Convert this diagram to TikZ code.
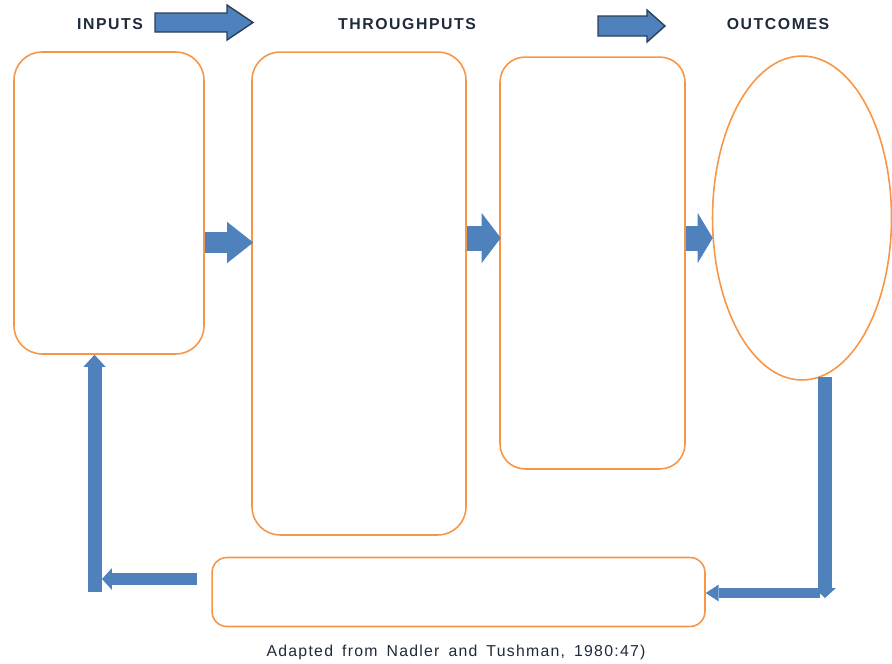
\documentclass[tikz,border=0pt]{standalone}
\usepackage{fontspec}
\setmainfont{Liberation Sans}
\newfontfamily\headfont[LetterSpace=10]{Liberation Sans}
\newfontfamily\notefont[LetterSpace=8,WordSpace=1.6]{Liberation Sans}
\usetikzlibrary{arrows.meta,shapes.geometric}
\definecolor{boxorange}{HTML}{F79646}
\definecolor{flowblue}{HTML}{4F81BD}
\definecolor{flowedge}{HTML}{2B3F57}
\definecolor{headtext}{HTML}{1F2A3A}

\begin{document}
\begin{tikzpicture}[x=0.02cm, y=-0.02cm,
    box/.style={draw=boxorange, line width=0.9pt, rounded corners=0.56cm, inner sep=0pt},
    head/.style={font=\headfont\bfseries\fontsize{9}{10}\selectfont, text=headtext},
    bigarrow/.style={fill=flowblue, draw=flowedge, line width=0.8pt, line join=miter},
    flow/.style={flowblue, line width=#1}]
      \useasboundingbox (0,0) rectangle (892,663);

      % headings
      \node[head] (inlabel) at (110,24) {INPUTS};
      \node[head] (thrulabel) at (407,24) {THROUGHPUTS};
      \node[head] (outlabel) at (778,24) {OUTCOMES};
      \draw[bigarrow] (155,13) -- (227,13) -- (227,5) -- (253,22.5) -- (227,40) -- (227,32) -- (155,32) -- cycle;
      \draw[bigarrow] (598,16) -- (647,16) -- (647,10) -- (665,26) -- (647,42) -- (647,36) -- (598,36) -- cycle;

      % boxes
      \node[box, minimum width=3.8cm, minimum height=6.04cm] (inputs) at (109,203) {};
      \node[box, minimum width=4.28cm, minimum height=9.66cm] (transform) at (359,293.5) {};
      \node[box, rounded corners=0.5cm, minimum width=3.7cm, minimum height=8.24cm] (output) at (592.5,263) {};
      \node[draw=boxorange, line width=0.9pt, ellipse, inner sep=0pt, minimum width=3.58cm, minimum height=6.48cm] (outcome) at (802,218) {};
      \node[box, rounded corners=0.3cm, minimum width=9.86cm, minimum height=1.38cm] (feedback) at (458.5,592) {};

      % forward flow
      \coordinate (row1) at (0,242.5);
      \coordinate (row2) at (0,238);
      \draw[flow=0.42cm, -{Triangle[width=0.82cm, length=0.52cm, line width=0pt]}] (inputs.east |- row1) -- ([xshift=0.04cm]transform.west |- row1);
      \draw[flow=0.5cm, -{Triangle[width=1cm, length=0.38cm, line width=0pt]}] (transform.east |- row2) -- ([xshift=0.03cm]output.west |- row2);
      \draw[flow=0.5cm, -{Triangle[width=1cm, length=0.3cm, line width=0pt]}] (output.east |- row2) -- ([xshift=0.02cm]outcome.west |- row2);

      % feedback loop
      \coordinate (downtop) at (825,377);
      \coordinate (downend) at (825,598);
      \coordinate (backstart) at (820,593);
      \coordinate (leftstart) at (197,579);
      \coordinate (leftend) at (102,579);
      \coordinate (upbase) at (94.5,592);
      \draw[flow=0.2cm, -{Triangle[width=0.34cm, length=0.26cm, line width=0pt]}] (backstart) -- (feedback.east |- backstart);
      \draw[flow=0.28cm, -{Triangle[width=0.44cm, length=0.2cm, line width=0pt]}] (downtop) -- (downend);
      \draw[flow=0.24cm, -{Triangle[width=0.44cm, length=0.2cm, line width=0pt]}] (leftstart) -- (leftend);
      \draw[flow=0.28cm, -{Triangle[width=0.44cm, length=0.24cm, line width=0pt]}] (upbase) -- (inputs.south -| upbase);

      \node[font=\notefont\fontsize{9}{10}\selectfont, text=headtext] (source) at (456,652) {Adapted from Nadler and Tushman, 1980:47)};
    \end{tikzpicture}
\end{document}
